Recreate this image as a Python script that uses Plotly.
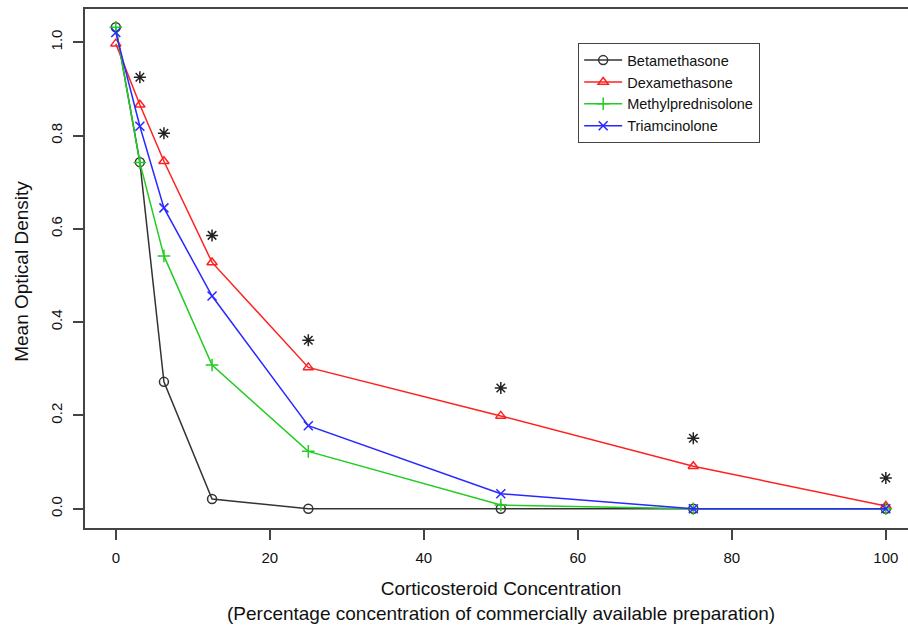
import plotly.graph_objects as go

conc = [0, 3.125, 6.25, 12.5, 25, 50, 75, 100]
betamethasone = [1.032, 0.743, 0.272, 0.021, 0.0, 0.0, 0.0, 0.0]
dexamethasone = [0.997, 0.866, 0.745, 0.528, 0.303, 0.199, 0.091, 0.006]
methylprednisolone = [1.032, 0.742, 0.542, 0.308, 0.123, 0.008, 0.0, 0.0]
triamcinolone = [1.021, 0.820, 0.645, 0.456, 0.178, 0.032, 0.0, 0.0]
star_x = [3.125, 6.25, 12.5, 25, 50, 75, 100]
star_y = [0.925, 0.805, 0.586, 0.361, 0.259, 0.151, 0.066]

x_ticks = [0, 20, 40, 60, 80, 100]
y_ticks = [0.0, 0.2, 0.4, 0.6, 0.8, 1.0]
y_tick_text = ["0.0", "0.2", "0.4", "0.6", "0.8", "1.0"]

series = [
    ("Betamethasone", betamethasone, "#333333", "circle-open"),
    ("Dexamethasone", dexamethasone, "#FF2020", "triangle-up-open"),
    ("Methylprednisolone", methylprednisolone, "#22CC22", "cross-thin-open"),
    ("Triamcinolone", triamcinolone, "#2828FF", "x-thin-open"),
]

FONT = "Liberation Sans, Arial, Helvetica, sans-serif"

fig = go.Figure()
for name, vals, color, sym in series:
    fig.add_trace(go.Scatter(
        x=conc, y=vals, mode="lines+markers", name=name,
        line=dict(color=color, width=1.5),
        marker=dict(symbol=sym, size=9, color=color, line=dict(color=color, width=1.5)),
    ))

fig.add_trace(go.Scatter(
    x=star_x, y=star_y, mode="markers", showlegend=False,
    marker=dict(symbol="asterisk-open", size=10, color="#222222",
                line=dict(color="#222222", width=1.5)),
))

fig.update_layout(
    width=908, height=625,
    margin=dict(l=85, r=0, t=9, b=97),
    paper_bgcolor="white", plot_bgcolor="white",
    font=dict(family=FONT, size=15, color="#111111"),
    showlegend=True,
    legend=dict(
        x=0.599, y=0.9345, xanchor="left", yanchor="top",
        bordercolor="#444444", borderwidth=1.2, bgcolor="white",
        font=dict(family=FONT, size=14.5, color="#111111"),
        tracegroupgap=0, itemwidth=38,
    ),
)

fig.update_xaxes(
    range=[-4, 102.88], tickvals=x_ticks, ticktext=[str(v) for v in x_ticks],
    showgrid=False, zeroline=False,
    showline=True, mirror=True, linecolor="#444444", linewidth=1.5,
    ticks="outside", ticklen=10, tickwidth=1.5, tickcolor="#444444",
    ticklabelstandoff=5,
    tickfont=dict(family=FONT, size=15, color="#111111"),
)
fig.update_yaxes(
    range=[-0.0413, 1.0713], tickvals=y_ticks, ticktext=y_tick_text,
    showgrid=False, zeroline=False,
    showline=True, mirror=False, linecolor="#444444", linewidth=1.5,
    ticks="outside", ticklen=10, tickwidth=1.5, tickcolor="#444444",
    tickangle=-90, ticklabelstandoff=5,
    tickfont=dict(family=FONT, size=15, color="#111111"),
)

fig.add_annotation(
    xref="x", yref="paper", x=50, y=-0.1407, yanchor="middle", xanchor="center",
    text="Corticosteroid Concentration<br>(Percentage concentration of commercially available preparation)",
    showarrow=False, font=dict(family=FONT, size=19, color="#111111"),
)
fig.add_annotation(
    xref="paper", yref="y", x=-0.0766, y=0.51, xanchor="center", yanchor="middle",
    text="Mean Optical Density", textangle=-90,
    showarrow=False, font=dict(family=FONT, size=19, color="#111111"),
)

fig.write_html(
    "out.html",
    config={"displayModeBar": False},
    post_script="document.body.style.margin='0';document.body.style.padding='0';document.body.style.overflow='hidden';",
)
